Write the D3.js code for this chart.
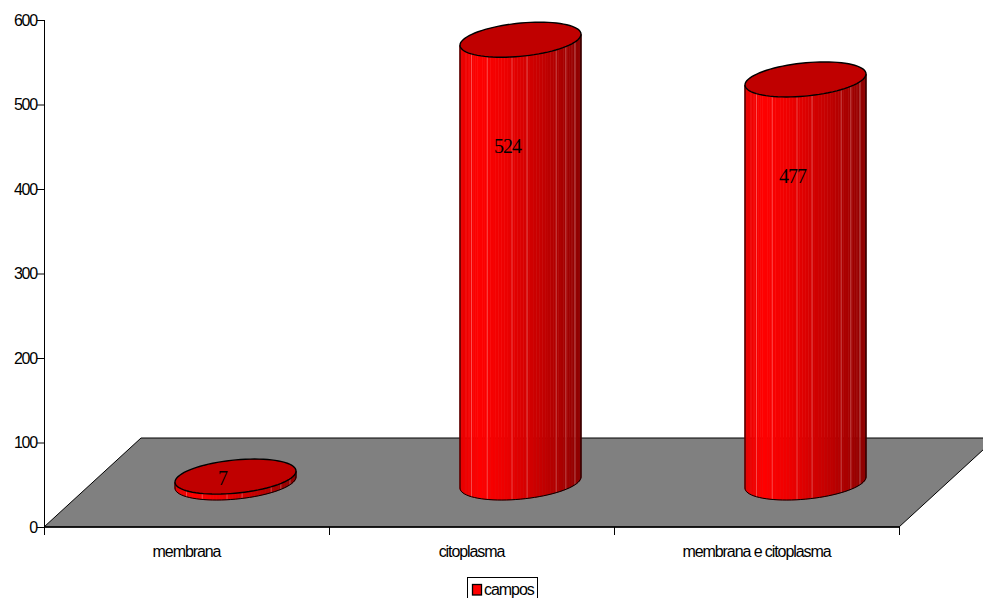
<!DOCTYPE html>
<html>
<head>
<meta charset="utf-8">
<script src="https://cdn.jsdelivr.net/npm/d3@7"></script>
<style>
html, body { margin: 0; padding: 0; background: #fff; overflow: hidden; }
svg { display: block; }
text { font-family: "Liberation Sans", Arial, sans-serif; fill: #000; }
</style>
</head>
<body>
<div id="chart"></div>
<script>
const categories = ["membrana", "citoplasma", "membrana e citoplasma"];
const campos = [7, 524, 477];
const yTicks = [0, 100, 200, 300, 400, 500, 600];
const seriesName = "campos";
// Visible seams on the cylinder wall, as a fraction of the radius from the axis.
const seams = [-0.81, -0.55, -0.14, 0.11, 0.59, 0.75, 0.90];

const width = 983, height = 598;
const left = 44, right = 899, top0 = 20, bottom = 527;
const depthX = 97, depthY = 89; // oblique offset of the floor's back edge

const svg = d3.select("#chart").append("svg").attr("width", width).attr("height", height);

const x = d3.scaleBand().domain(categories).range([left, right]);
const y = d3.scaleLinear().domain([0, 600]).range([bottom, top0]);

// Wall shading, dark rim on the left, bright band, then falling off to the right.
const shade = d3.scaleLinear()
  .domain([-1, -0.7, -0.3, 0.3, 0.7, 1])
  .range(["#e80000", "#ff0000", "#f00000", "#c80000", "#a80000", "#8c0000"]);

// Floor
svg.append("path")
  .attr("d", d3.line()([[left, bottom], [right, bottom], [right + depthX, bottom - depthY], [left + depthX, bottom - depthY]]) + "Z")
  .attr("fill", "#808080").attr("stroke", "#000").attr("stroke-width", 1);

// Axes
const yAxis = d3.axisLeft(y).tickValues(yTicks).tickSize(7).tickPadding(0);
const gy = svg.append("g").attr("transform", `translate(${left},0)`).call(yAxis);
gy.selectAll("text").attr("font-size", 16).attr("letter-spacing", "-1.2px");
gy.select(".domain").attr("d", `M0.5,${top0}V${bottom + 8}`).attr("stroke", "#000");

const gx = svg.append("g").attr("transform", `translate(0,${bottom})`);
gx.append("line").attr("x1", left).attr("x2", right).attr("stroke", "#000").attr("stroke-width", 1.4);
const edges = [left, ...categories.map(c => x(c) + x.bandwidth())];
gx.selectAll("line.tick").data(edges).join("line").attr("class", "tick")
  .attr("x1", d => d + 0.5).attr("x2", d => d + 0.5).attr("y1", 0).attr("y2", 8).attr("stroke", "#000");
gx.selectAll("text").data(categories).join("text")
  .attr("x", d => x(d) + x.bandwidth() / 2).attr("y", 29.5)
  .attr("text-anchor", "middle").attr("font-size", 16).attr("letter-spacing", "-1.08px")
  .text(d => d);

// Cylinders: circles lying in the floor plane, projected obliquely.
const radiusX = 57.4, depthFrac = 0.197;
const vec = { ax: radiusX, bx: depthFrac * depthX, by: -depthFrac * depthY };
const point = (cx, cy, t) => [cx + Math.cos(t) * vec.ax + Math.sin(t) * vec.bx, cy + Math.sin(t) * vec.by];
const tRight = Math.atan2(vec.bx, vec.ax);
const span = Math.sqrt(vec.ax * vec.ax + vec.bx * vec.bx);
const frontArc = (cx, cy, a0, a1) => d3.range(0, 41).map(i => point(cx, cy, a0 + (a1 - a0) * i / 40));

const bars = svg.append("g").selectAll("g").data(categories.map((c, i) => ({ c, v: campos[i] }))).join("g");

bars.each(function (d) {
  const g = d3.select(this);
  const cx = x(d.c) + x.bandwidth() / 2 + depthX / 2 + 0.5;
  const baseY = bottom - depthY / 2;
  const h = y(0) - y(d.v);
  const topY = baseY - h;
  const line = d3.line();

  // Visible wall runs across the front of the circle: from right extreme to left extreme.
  const a0 = tRight, a1 = tRight - Math.PI;
  const facets = 60;
  for (let i = 0; i < facets; i++) {
    const s0 = a0 + (a1 - a0) * i / facets, s1 = a0 + (a1 - a0) * (i + 1) / facets;
    const p0 = point(cx, baseY, s0), p1 = point(cx, baseY, s1);
    const mid = ((p0[0] + p1[0]) / 2 - cx) / span;
    g.append("path")
      .attr("d", line([p0, p1, [p1[0], p1[1] - h], [p0[0], p0[1] - h]]) + "Z")
      .attr("fill", shade(mid)).attr("stroke", shade(mid)).attr("stroke-width", 0.6);
  }
  // Pale seams between wall facets
  seams.forEach(f => {
    const t = -Math.acos(f) + tRight;
    const p = point(cx, baseY, t);
    g.append("line")
      .attr("x1", p[0]).attr("x2", p[0]).attr("y1", p[1]).attr("y2", p[1] - h)
      .attr("stroke", "#fff").attr("stroke-opacity", 0.28).attr("stroke-width", 1);
  });
  // Outline of the wall
  const outline = frontArc(cx, baseY, a0, a1);
  g.append("path")
    .attr("d", line([[outline[0][0], outline[0][1] - h], ...outline, [outline[40][0], outline[40][1] - h]]))
    .attr("fill", "none").attr("stroke", "#000").attr("stroke-width", 1);
  // Top face
  const cap = d3.range(0, 80).map(i => point(cx, topY, i / 80 * 2 * Math.PI));
  g.append("path").attr("d", line(cap) + "Z").attr("fill", "#c00000").attr("stroke", "#000").attr("stroke-width", 1.4);
  // Value label, about a quarter of the way down the wall
  g.append("text")
    .attr("x", cx - 13).attr("y", topY + Math.max(8, 0.256 * h))
    .attr("text-anchor", "middle")
    .style("font-family", "'Liberation Serif', serif")
    .attr("font-size", 20).attr("letter-spacing", "-1px")
    .text(d.v);
});

// Legend
const legend = svg.append("g");
legend.append("rect").attr("x", 467.5).attr("y", 577.5).attr("width", 70).attr("height", 24)
  .attr("fill", "#fff").attr("stroke", "#000");
legend.append("rect").attr("x", 472.5).attr("y", 584.5).attr("width", 9).attr("height", 10.5)
  .attr("fill", "#ff0000").attr("stroke", "#000").attr("stroke-width", 1.3);
legend.append("text").attr("x", 484).attr("y", 595).attr("font-size", 16).attr("letter-spacing", "-1.05px").text(seriesName);
</script>
</body>
</html>
